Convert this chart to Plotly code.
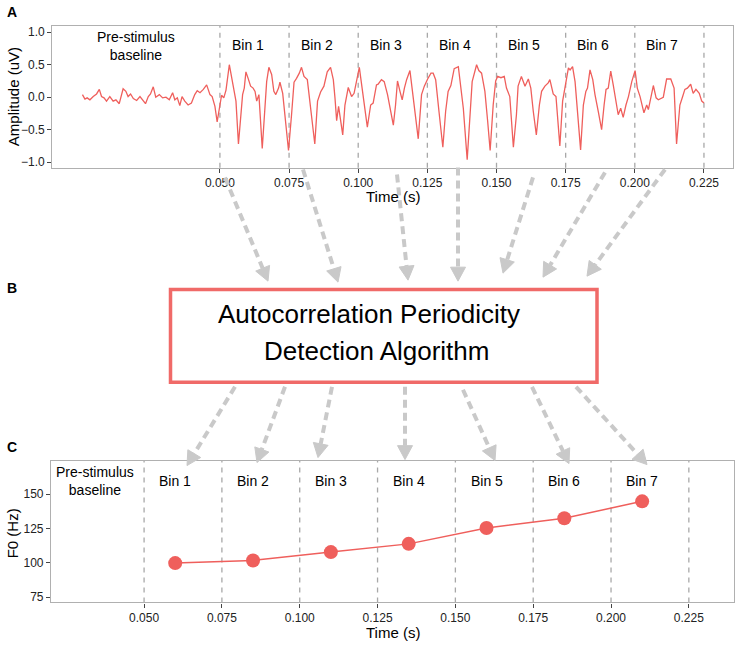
import plotly.graph_objects as go

# ---- data ----
wave_time = [
    0.0003, 0.0012, 0.0020, 0.0030, 0.0042, 0.0054, 0.0064, 0.0072, 0.0081, 0.0090,
    0.0102, 0.0114, 0.0124, 0.0136, 0.0150, 0.0160, 0.0168, 0.0177, 0.0187, 0.0199,
    0.0211, 0.0220, 0.0231, 0.0241, 0.0249, 0.0259, 0.0268, 0.0281, 0.0293, 0.0305,
    0.0317, 0.0329, 0.0337, 0.0346, 0.0355, 0.0363, 0.0373, 0.0385, 0.0397, 0.0409,
    0.0418, 0.0428, 0.0440, 0.0452, 0.0464, 0.0472, 0.0482, 0.0490,
    0.0500, 0.0506, 0.0514, 0.0522, 0.0534, 0.0542, 0.0548, 0.0558, 0.0567, 0.0575,
    0.0582, 0.0588, 0.0594, 0.0602, 0.0611, 0.0620, 0.0627, 0.0633, 0.0641, 0.0653,
    0.0663, 0.0669, 0.0677, 0.0687, 0.0695, 0.0702, 0.0712, 0.0717, 0.0727, 0.0736,
    0.0748, 0.0759, 0.0768, 0.0777, 0.0787, 0.0795, 0.0804, 0.0816, 0.0828, 0.0843,
    0.0853, 0.0864, 0.0876, 0.0888, 0.0900, 0.0910, 0.0916, 0.0922, 0.0929, 0.0944,
    0.0952, 0.0964, 0.0976, 0.0985, 0.1004, 0.1016, 0.1024, 0.1033, 0.1045, 0.1054,
    0.1066, 0.1072, 0.1084, 0.1094, 0.1106, 0.1115, 0.1127, 0.1135, 0.1142, 0.1151,
    0.1159, 0.1167, 0.1175, 0.1187, 0.1196, 0.1205, 0.1217, 0.1229, 0.1239, 0.1251,
    0.1263, 0.1271, 0.1280, 0.1292, 0.1306, 0.1316, 0.1325, 0.1335, 0.1347, 0.1362,
    0.1371, 0.1380, 0.1394, 0.1404, 0.1412, 0.1428, 0.1436, 0.1446, 0.1458, 0.1468,
    0.1477, 0.1488, 0.1497, 0.1504, 0.1516, 0.1528, 0.1536, 0.1548, 0.1561, 0.1572,
    0.1578, 0.1590, 0.1603, 0.1615, 0.1624, 0.1633, 0.1644, 0.1655, 0.1663, 0.1675,
    0.1687, 0.1693, 0.1699, 0.1705, 0.1715, 0.1729, 0.1739, 0.1747, 0.1760, 0.1766,
    0.1775, 0.1784, 0.1792, 0.1804, 0.1814, 0.1823, 0.1829, 0.1838, 0.1848, 0.1856,
    0.1868, 0.1880, 0.1889, 0.1896, 0.1904, 0.1913, 0.1922, 0.1934, 0.1940, 0.1949,
    0.1958, 0.1968, 0.1977, 0.1989, 0.2001, 0.2009, 0.2019, 0.2033, 0.2043, 0.2049,
    0.2057, 0.2067, 0.2077, 0.2085, 0.2103, 0.2115, 0.2130, 0.2142, 0.2151, 0.2163,
    0.2173, 0.2181, 0.2190, 0.2202, 0.2211, 0.2221, 0.2233, 0.2242, 0.2250,
]
wave_amp = [
    0.04, -0.03, -0.01, -0.04, 0.01, 0.05, 0.12, 0.01, -0.01, -0.06,
    0.01, -0.06, -0.04, -0.10, 0.13, 0.09, 0.01, 0.05, -0.02, -0.05,
    0.01, -0.04, -0.10, 0.01, 0.05, 0.16, 0.00, 0.04, -0.01, 0.00,
    -0.04, 0.07, -0.04, -0.01, -0.13, 0.01, -0.06, -0.12, -0.09, 0.04,
    0.10, 0.07, 0.12, 0.19, 0.04, 0.01, -0.14, -0.38,
    -0.09, 0.03, -0.01, 0.11, 0.50, 0.32, 0.14, -0.06, -0.72, -0.32,
    0.04, 0.14, 0.39, 0.29, 0.17, 0.14, 0.09, -0.06, 0.04, -0.79,
    -0.17, 0.24, 0.46, 0.35, 0.09, 0.04, 0.14, 0.23, 0.06, -0.37,
    -0.82, -0.27, 0.23, 0.29, 0.37, 0.46, 0.32, 0.27, -0.17, -0.72,
    -0.06, 0.08, 0.17, 0.39, 0.46, 0.27, -0.01, -0.36, -0.14, -0.58,
    -0.12, 0.15, 0.01, 0.06, 0.46, 0.09, -0.17, -0.46, -0.12, -0.09,
    0.19, 0.20, 0.27, 0.24, 0.04, -0.19, -0.43, -0.12, 0.25, 0.09,
    -0.04, 0.14, 0.27, 0.41, 0.09, -0.27, -0.64, 0.04, 0.17, 0.28,
    0.37, 0.37, 0.27, -0.22, -0.77, -0.22, 0.09, 0.18, 0.44, 0.47,
    0.19, -0.17, -0.96, -0.37, 0.24, 0.50, 0.41, 0.37, 0.09, -0.37,
    -0.82, -0.12, 0.25, 0.32, 0.30, 0.32, 0.14, 0.01, -0.77, -0.27,
    0.17, 0.32, 0.17, 0.28, 0.14, -0.22, -0.58, -0.12, 0.09, 0.17,
    0.22, 0.27, 0.14, 0.05, 0.01, -0.75, -0.06, 0.14, 0.45, 0.42,
    0.47, 0.24, -0.17, -0.81, -0.12, 0.09, 0.14, 0.42, 0.27, 0.04,
    -0.22, -0.50, -0.12, 0.12, 0.14, 0.40, 0.19, -0.12, -0.27, -0.17,
    -0.31, -0.12, 0.01, 0.24, 0.41, 0.14, 0.01, -0.24, -0.12, -0.19,
    -0.01, 0.18, -0.01, -0.04, 0.00, 0.28, 0.28, 0.14, -0.72, -0.12,
    0.01, 0.12, 0.14, 0.20, 0.06, 0.12, 0.06, -0.06, -0.09,
]

bin_labels = ["Bin 1", "Bin 2", "Bin 3", "Bin 4", "Bin 5", "Bin 6", "Bin 7"]
bin_time = [0.060, 0.085, 0.110, 0.135, 0.160, 0.185, 0.210]
f0_hz = [99.8, 101.7, 107.8, 113.8, 125.4, 132.5, 144.8]
bin_edges = [0.050, 0.075, 0.100, 0.125, 0.150, 0.175, 0.200, 0.225]
amp_ticks = [-1.0, -0.5, 0.0, 0.5, 1.0]
f0_ticks = [75, 100, 125, 150]

W, H = 743, 652
RED = "#EF5F5C"
GREY_ARROW = "#C9C9C9"
FONT = "Liberation Sans"


def px(x):
    return x / W


def py(y):
    return 1 - y / H


fig = go.Figure()

fig.add_trace(go.Scatter(x=wave_time, y=wave_amp, mode="lines",
                         line=dict(color=RED, width=1.3),
                         xaxis="x", yaxis="y", showlegend=False))
fig.add_trace(go.Scatter(x=bin_time, y=f0_hz, mode="lines+markers",
                         line=dict(color=RED, width=1.5),
                         marker=dict(color=RED, size=14),
                         xaxis="x2", yaxis="y2", showlegend=False))

axis_common = dict(showgrid=False, zeroline=False, ticks="outside", ticklen=4,
                   tickcolor="#444", tickwidth=1, showline=True, mirror=True,
                   linecolor="#B0B0B0", linewidth=1.2,
                   tickfont=dict(family=FONT, size=12, color="#222"))

fig.update_layout(
    width=W, height=H,
    margin=dict(l=0, r=0, t=0, b=0),
    paper_bgcolor="white", plot_bgcolor="white",
    font=dict(family=FONT, color="black"),
    xaxis=dict(domain=[px(52.3), px(733)], range=[-0.0106, 0.2355], anchor="y",
               tickvals=bin_edges, tickformat=".3f", **axis_common),
    yaxis=dict(domain=[py(168.3), py(26)], range=[-1.086, 1.097], anchor="x",
               tickvals=amp_ticks, tickformat=".1f", **axis_common),
    xaxis2=dict(domain=[px(51), px(734.3)], range=[0.0201, 0.2396], anchor="y2",
                tickvals=bin_edges, tickformat=".3f", **axis_common),
    yaxis2=dict(domain=[py(604.3), py(462.3)], range=[71.1, 174.3], anchor="x2",
                tickvals=f0_ticks, **axis_common),
)

# dashed bin boundaries in both panels
for xr, yr in (("x", "y domain"), ("x2", "y2 domain")):
    for e in bin_edges:
        fig.add_shape(type="line", xref=xr, yref=yr, x0=e, x1=e, y0=0, y1=1,
                      line=dict(color="#A8A8A8", width=1.3, dash="5px,5px"),
                      layer="below")

# algorithm box
fig.add_shape(type="rect", xref="paper", yref="paper",
              x0=px(170.5), x1=px(597), y0=py(383.5), y1=py(290.5),
              line=dict(color="#F06A68", width=3.5))

# arrows (pixel geometry of the schematic)
arrows_in = [(225, 178, 268, 282), (303, 170, 338, 283), (397, 175, 408, 281),
             (458, 168, 458, 282), (533, 178, 503, 274), (605, 173, 543, 278),
             (665, 170, 587, 277)]
arrows_out = [(235, 388, 187, 467), (285, 388, 257, 464), (332, 388, 318, 459),
              (405, 388, 405, 461), (463, 391, 495, 462), (532, 388, 569, 465),
              (576, 388, 647, 466)]

head_len, head_half = 14, 7.5
for x0, y0, x1, y1 in arrows_in + arrows_out:
    dx, dy = x1 - x0, y1 - y0
    L = (dx ** 2 + dy ** 2) ** 0.5
    ux, uy = dx / L, dy / L
    bx, by = x1 - ux * head_len, y1 - uy * head_len
    fig.add_shape(type="line", xref="paper", yref="paper",
                  x0=px(x0), y0=py(y0), x1=px(bx), y1=py(by),
                  line=dict(color=GREY_ARROW, width=4, dash="8px,5px"))
    nx, ny = -uy, ux
    path = "M {} {} L {} {} L {} {} Z".format(
        px(x1), py(y1),
        px(bx + nx * head_half), py(by + ny * head_half),
        px(bx - nx * head_half), py(by - ny * head_half))
    fig.add_shape(type="path", xref="paper", yref="paper", path=path,
                  fillcolor=GREY_ARROW, line=dict(color=GREY_ARROW, width=1))


def label(text, x, y, size=14, xref="paper", yref="paper", **kw):
    return dict(text=text, x=x, y=y, xref=xref, yref=yref, showarrow=False,
                xanchor="center", yanchor="middle", font=dict(size=size), **kw)


ann = []
# panel letters
for letter, yy in (("A", 12), ("B", 289), ("C", 448)):
    ann.append(label("<b>" + letter + "</b>", px(12), py(yy), size=14))

# axis titles
ann += [
    label("Time (s)", px(393), py(197), size=15),
    label("Amplitude (uV)", px(13), py(97.5), size=15, textangle=-90),
    label("Time (s)", px(393), py(634.5), size=15),
    label("F0 (Hz)", px(12), py(535), size=15, textangle=-90),
]

# bin labels
for lab, t in zip(bin_labels, bin_time):
    ann.append(label(lab, t, 0.8, xref="x", yref="y"))
    ann.append(label(lab, t, 160, xref="x2", yref="y2"))
ann.append(label("Pre-stimulus<br>baseline", 0.0196, 0.79, xref="x", yref="y"))
ann.append(label("Pre-stimulus<br>baseline", 0.0343, 159.5, xref="x2", yref="y2"))

# box text
ann.append(label("Autocorrelation Periodicity", px(369), py(315), size=26))
ann.append(label("Detection Algorithm", px(376), py(351.7), size=26))

fig.update_layout(annotations=ann)

fig.write_html("out.html", config={"displayModeBar": False},
               post_script="document.body.style.margin='0';")
